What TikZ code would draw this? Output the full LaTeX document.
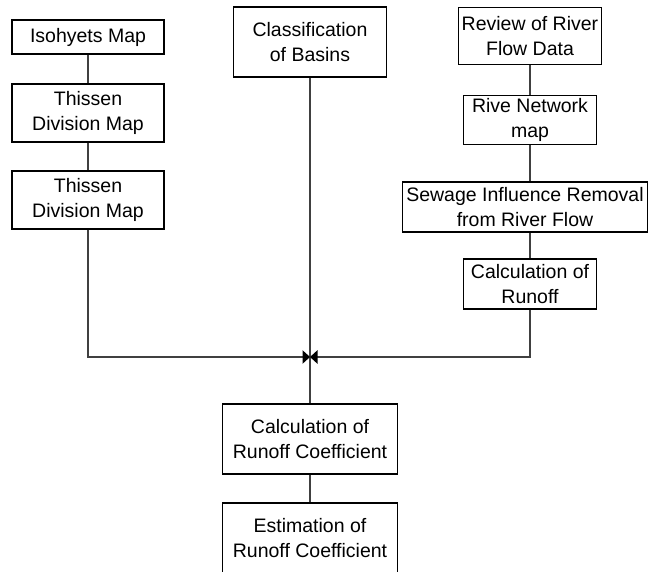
\documentclass[tikz,border=0pt]{standalone}
\usepackage{fontspec}
\setmainfont{Liberation Sans}
\usepackage{tikz}
\usetikzlibrary{arrows.meta, positioning}
\definecolor{linegray}{RGB}{64, 64, 64}

\begin{document}
\begin{tikzpicture}[
  x=0.6pt, y=-0.6pt,
  font=\fontsize{11.7}{14.7}\selectfont,
  box/.style={rectangle, draw=black, line width=0.8pt, align=center,
              inner sep=2pt},
  link/.style={draw=linegray, line width=0.9pt},
  arrow/.style={link, -{Triangle[length=4.5pt, width=8pt, color=black]}},
]
\useasboundingbox (0,0) rectangle (648,572);

% Left column
\node[box, minimum width=91.2pt, minimum height=20.4pt] (iso) at (88,37)
  {Isohyets Map};
\node[box, minimum width=91.2pt, minimum height=34.8pt] (th1) at (88,113)
  {Thissen\\Division Map};
\node[box, minimum width=91.2pt, minimum height=34.8pt] (th2) at (88,200)
  {Thissen\\Division Map};

% Middle
\node[box, minimum width=91.8pt, minimum height=42pt] (cls) at (310,42)
  {Classification\\of Basins};

% Right column
\node[box, minimum width=79.8pt, minimum height=34.2pt] (rev) at (530,36)
  {Review of River\\Flow Data};
\node[box, minimum width=79.8pt, minimum height=28.2pt] (net) at (530,120)
  {Rive Network\\map};
\node[box, minimum width=147pt, minimum height=30pt] (sew) at (525,207)
  {Sewage Influence Removal\\from River Flow};
\node[box, minimum width=79.8pt, minimum height=30pt] (run) at (530,284)
  {Calculation of\\Runoff};

% Bottom
\node[box, minimum width=105pt, minimum height=42pt] (coef) at (310,439)
  {Calculation of\\Runoff Coefficient};
\node[box, minimum width=105pt, minimum height=42pt] (est) at (310,538)
  {Estimation of\\Runoff Coefficient};

% Junction
\coordinate (jn) at (310,357);

% Connectors
\draw[link] (iso) -- (th1);
\draw[link] (th1) -- (th2);
\draw[link] (rev) -- (net);
\draw[link] (net.south) -- (net.south |- sew.north);
\draw[link] (sew.south -| run.north) -- (run.north);
\draw[link] (cls.south) -- (coef.north);
\draw[link] (coef) -- (est);
\draw[arrow] (th2.south) |- (jn);
\draw[arrow] (run.south) |- (jn);

\end{tikzpicture}
\end{document}
